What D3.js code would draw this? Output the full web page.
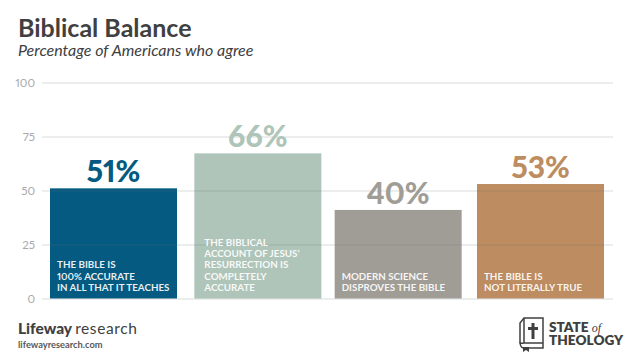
<!DOCTYPE html>
<html><head><meta charset="utf-8">
<script src="https://cdn.jsdelivr.net/npm/d3@7"></script>
<style>html,body{margin:0;padding:0;background:#fff}svg{display:block}text{font-family:Lato,sans-serif;font-variant-numeric:proportional-nums}</style>
</head><body><svg id="c" width="630" height="363"></svg>
<script>
const categories = ["a","b","c","d"];
const barHeights = [51, 67.2, 41, 53];
const valueLabels = ["51%","66%","40%","53%"];
const colors = ["#045a80","#afc5b9","#a09d96","#bd8c61"];
const labelColors = ["#045a80","#afc5b9","#a09d96","#bd8c61"];
const captions = [
 ["THE BIBLE IS","100% ACCURATE","IN ALL THAT IT TEACHES"],
 ["THE BIBLICAL","ACCOUNT OF JESUS’","RESURRECTION IS","COMPLETELY","ACCURATE"],
 ["MODERN SCIENCE","DISPROVES THE BIBLE"],
 ["THE BIBLE IS","NOT LITERALLY TRUE"]
];
const ticks = [0,25,50,75,100];

const svg = d3.select("#c");
const y = d3.scaleLinear().domain([0,100]).range([298.5,82.5]);
const band = d3.scaleBand().domain(categories).range([50,604]).paddingInner(0.1077).paddingOuter(0);
// the second bar sits slightly right of an even spacing in the reference
const x = d => band(d) + (d === "b" ? 2 : 0);
const dark = "#404041";

// title
svg.append("text").attr("x",18).attr("y",37).attr("font-size",25).attr("font-weight",700).attr("fill",dark).text("Biblical Balance");
svg.append("text").attr("x",18).attr("y",56).attr("font-size",16).attr("font-style","italic").attr("fill",dark).text("Percentage of Americans who agree");

// bars
svg.selectAll("rect.bar").data(categories).join("rect").attr("class","bar")
  .attr("x",d=>x(d)).attr("width",band.bandwidth())
  .attr("y",(d,i)=>y(barHeights[i])).attr("height",(d,i)=>y(0)-y(barHeights[i]))
  .attr("fill",(d,i)=>colors[i]);

// axis
const axis = d3.axisLeft(y).tickValues(ticks).tickSize(0).tickPadding(7);
const ag = svg.append("g").attr("transform","translate(42,0)").call(axis);
ag.select(".domain").remove();
ag.selectAll("text").attr("font-size",11.5).attr("fill","#a7a9ac").style("font-family","Lato,sans-serif");
ag.selectAll("line").attr("x2",571).attr("stroke","#6d6e71").attr("stroke-opacity",0.17).attr("stroke-width",1.4);

// value labels
svg.selectAll("text.val").data(categories).join("text").attr("class","val")
  .attr("x",d=>x(d)+band.bandwidth()/2).attr("y",(d,i)=>y(barHeights[i])-6)
  .attr("text-anchor","middle").attr("font-size",30).attr("font-weight",900)
  .attr("fill",(d,i)=>labelColors[i]).text((d,i)=>valueLabels[i]);

// captions
categories.forEach((c,i)=>{
  const lines = captions[i];
  svg.selectAll(null).data(lines).join("text")
    .attr("x",x(c)+(i===1?10:7)).attr("y",(d,k)=>291-(lines.length-1-k)*11.3)
    .attr("font-size",9.8).attr("font-weight",700).attr("fill","#fff").attr("fill-opacity",0.92).text(d=>d);
});

// footer
const lw = svg.append("text").attr("x",18).attr("y",334).attr("font-size",15.5).attr("fill",dark);
lw.append("tspan").attr("font-weight",900).text("Lifeway");
lw.append("tspan").attr("dx",3).attr("font-weight",400).attr("letter-spacing",0.6).text("research");
svg.append("text").attr("x",18).attr("y",348).attr("font-size",9.3).attr("font-weight",700).attr("fill","#58595b").text("lifewayresearch.com");

// book logo
const b = svg.append("g").attr("fill","none").attr("stroke",dark).attr("stroke-width",1.5);
b.append("path").attr("d","M524 318 L543 318 L543 348 L524 348 C520 348 520 342 520 342 L520 323 Z");
b.append("path").attr("d","M524 318 L524 343 L543 343 M520 342 C520 344 522 343 524 343");
b.append("path").attr("d","M533 323 L533 339 M528 328.5 L538 328.5").attr("stroke-width",3);
svg.append("path").attr("d","M523 347 L529 347 L529 352 L526 350 L523 352 Z").attr("fill",dark);

const s = svg.append("text").attr("y",332).attr("font-size",13.6).attr("font-weight",800).attr("fill",dark);
s.append("tspan").attr("x",549).text("STATE ");
s.append("tspan").attr("font-family","'Liberation Serif',serif").attr("font-style","italic").attr("font-weight",400).attr("font-size",12).text("of");
s.append("tspan").attr("x",549).attr("y",345).text("THEOLOGY");
</script></body></html>
